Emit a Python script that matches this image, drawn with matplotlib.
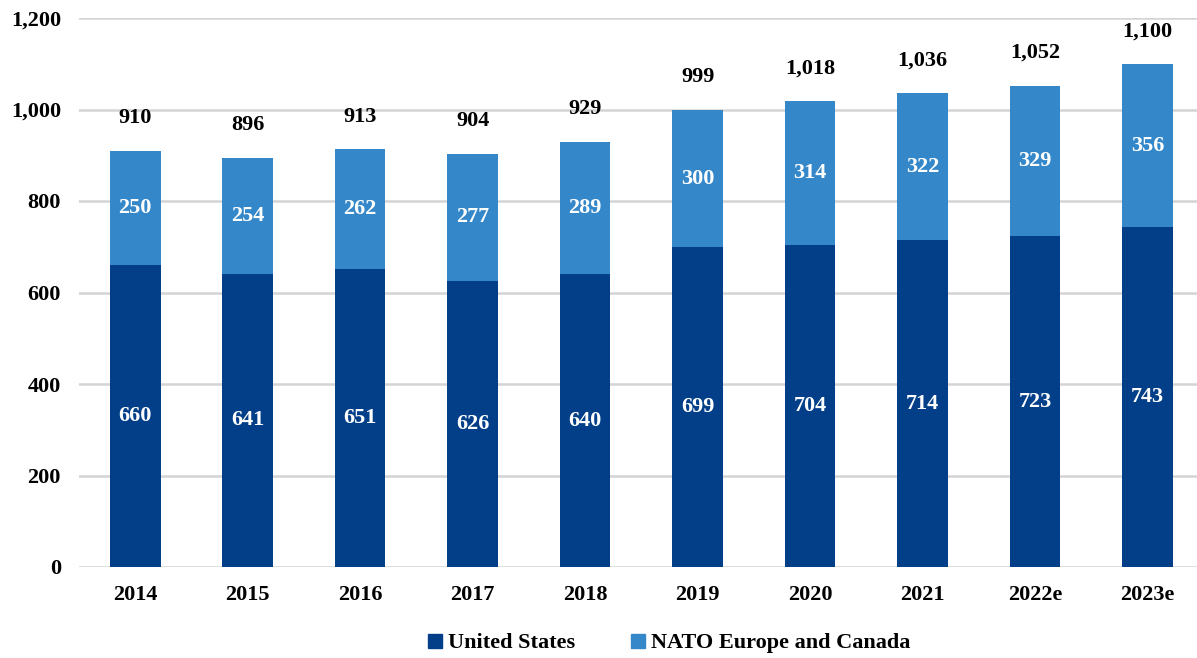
import matplotlib.pyplot as plt
from matplotlib.lines import Line2D

years = ['2014', '2015', '2016', '2017', '2018', '2019', '2020', '2021', '2022e', '2023e']
us = [660, 641, 651, 626, 640, 699, 704, 714, 723, 743]
europe = [250, 254, 262, 277, 289, 300, 314, 322, 329, 356]
totals = [910, 896, 913, 904, 929, 999, 1018, 1036, 1052, 1100]

dark = '#023F88'
light = '#3487C9'

plt.rcParams['font.family'] = ['Liberation Serif', 'DejaVu Serif']
plt.rcParams['font.weight'] = 'bold'

fig = plt.figure(figsize=(11.97, 6.58), dpi=100)
ax = fig.add_axes([79 / 1197, 1 - 567 / 658, 1 - 79 / 1197, 549 / 658])

x = list(range(len(years)))
w = 0.45
ax.bar(x, us, w, color=dark, zorder=3)
ax.bar(x, europe, w, bottom=us, color=light, zorder=3)

for i in x:
    ax.text(i, us[i] / 2, str(us[i]), ha='center', va='center',
            color='white', fontsize=16, fontweight='bold', zorder=4)
    ax.text(i, us[i] + europe[i] / 2, str(europe[i]), ha='center', va='center',
            color='white', fontsize=16, fontweight='bold', zorder=4)
    ax.annotate(f'{totals[i]:,}', (i, us[i] + europe[i]), xytext=(0, 23.5),
                textcoords='offset points', ha='center', va='center',
                color='black', fontsize=16, fontweight='bold')

ax.set_xlim(-0.5, 9.44)
ax.set_ylim(0, 1200)
ax.set_yticks(range(0, 1201, 200))
ax.set_yticklabels([f'{v:,}' for v in range(0, 1201, 200)])
ax.set_xticks(x)
ax.set_xticklabels(years)
ax.tick_params(axis='both', length=0, labelsize=16)
ax.tick_params(axis='y', pad=13)
ax.tick_params(axis='x', pad=13)
ax.grid(axis='y', color='#D4D4D4', linewidth=1.8, zorder=0)
for s in ax.spines.values():
    s.set_visible(False)

handles = [Line2D([], [], marker='s', color=dark, linestyle='', markersize=10),
           Line2D([], [], marker='s', color=light, linestyle='', markersize=10)]
fig.legend(handles, ['United States', 'NATO Europe and Canada'], loc='center',
           bbox_to_anchor=(667 / 1197, 1 - 643 / 658), ncol=2, frameon=False,
           fontsize=16, handletextpad=0.1, columnspacing=2.3, handlelength=1)

fig.savefig('out.png', dpi=100)
